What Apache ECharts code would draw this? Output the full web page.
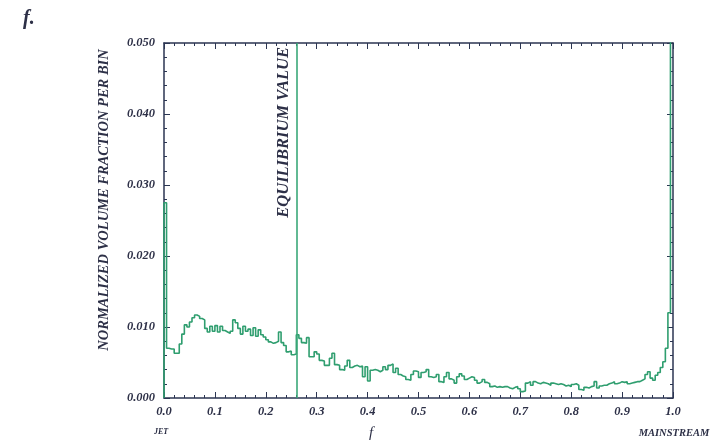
<!DOCTYPE html>
<html>
<head>
<meta charset="utf-8">
<script src="https://cdn.jsdelivr.net/npm/echarts@6/dist/echarts.min.js"></script>
<style>html,body{margin:0;padding:0;background:#fff;}#c{width:725px;height:443px;}</style>
</head>
<body>
<div id="c"></div>
<script>
// Histogram bin width (mixture fraction f)
const binWidth = 0.005;
// Normalized volume fraction per bin
const valsF000_020 = [0.0275,0.0070,0.0069,0.0069,0.0063,0.0063,0.0076,0.0090,0.0103,0.0100,
  0.0107,0.0113,0.0117,0.0115,0.0112,0.0110,0.0098,0.0093,0.0101,0.0094,
  0.0102,0.0093,0.0101,0.0095,0.0093,0.0091,0.0094,0.0110,0.0106,0.0098,
  0.0090,0.0101,0.0094,0.0097,0.0088,0.0099,0.0087,0.0096,0.0089,0.0086];
const valsF020_040 = [0.0082,0.0079,0.0077,0.0078,0.0080,0.0093,0.0078,0.0074,0.0065,0.0066,
  0.0061,0.0062,0.0089,0.0084,0.0078,0.0077,0.0085,0.0058,0.0058,0.0065,
  0.0062,0.0053,0.0052,0.0046,0.0046,0.0056,0.0063,0.0047,0.0046,0.0040,
  0.0039,0.0045,0.0053,0.0043,0.0045,0.0046,0.0044,0.0045,0.0030,0.0044];
const valsF040_060 = [0.0024,0.0039,0.0040,0.0039,0.0037,0.0039,0.0044,0.0040,0.0046,0.0048,
  0.0036,0.0042,0.0033,0.0031,0.0030,0.0026,0.0025,0.0033,0.0038,0.0037,
  0.0029,0.0036,0.0037,0.0040,0.0030,0.0029,0.0030,0.0033,0.0023,0.0022,
  0.0030,0.0036,0.0027,0.0025,0.0021,0.0030,0.0034,0.0031,0.0026,0.0028];
const valsF060_080 = [0.0030,0.0029,0.0025,0.0021,0.0023,0.0026,0.0022,0.0020,0.0016,0.0017,
  0.0015,0.0016,0.0015,0.0016,0.0016,0.0014,0.0013,0.0015,0.0016,0.0013,
  0.0009,0.0010,0.0021,0.0023,0.0018,0.0023,0.0021,0.0020,0.0022,0.0021,
  0.0020,0.0018,0.0021,0.0020,0.0019,0.0020,0.0019,0.0017,0.0018,0.0016];
const valsF080_100 = [0.0019,0.0020,0.0018,0.0012,0.0011,0.0015,0.0014,0.0016,0.0017,0.0023,
  0.0014,0.0017,0.0018,0.0018,0.0020,0.0021,0.0023,0.0020,0.0021,0.0023,
  0.0022,0.0023,0.0020,0.0021,0.0022,0.0023,0.0023,0.0025,0.0027,0.0033,
  0.0037,0.0028,0.0025,0.0032,0.0036,0.0043,0.0051,0.0070,0.0120,0.0600];
// Equilibrium value of f
const equilibriumF = 0.255;
// Axis ticks
const xTicks = [0.0,0.1,0.2,0.3,0.4,0.5,0.6,0.7,0.8,0.9,1.0];
const yTicks = [0.000,0.010,0.020,0.030,0.040,0.050];

const values = valsF000_020.concat(valsF020_040, valsF040_060, valsF060_080, valsF080_100);
const points = [[0, 0]];
values.forEach((v, i) => points.push([+(i * binWidth).toFixed(3), v]));
points.push([1.0, values[values.length - 1]]);

const txt = '#2d3047';
const axisCol = '#2b3552';
const serif = '"Liberation Serif", "DejaVu Serif", serif';

const chart = echarts.init(document.getElementById('c'));
const xBase = {
  type: 'value', min: xTicks[0], max: xTicks[xTicks.length - 1], interval: 0.1,
  axisLine: { show: true, onZero: false, lineStyle: { color: axisCol, width: 1.5 } },
  axisTick: { show: true, inside: true, length: 6, lineStyle: { color: axisCol } },
  minorTick: { show: true, splitNumber: 5, length: 3, lineStyle: { color: axisCol } },
  splitLine: { show: false }
};
const yBase = {
  type: 'value', min: yTicks[0], max: yTicks[yTicks.length - 1], interval: 0.01,
  axisLine: { show: true, onZero: false, lineStyle: { color: axisCol, width: 1.5 } },
  axisTick: { show: true, inside: true, length: 6, lineStyle: { color: axisCol } },
  minorTick: { show: true, splitNumber: 5, length: 3, lineStyle: { color: axisCol } },
  splitLine: { show: false }
};
chart.setOption({
  animation: false,
  backgroundColor: '#fff',
  grid: { left: 164, right: 52, top: 43, bottom: 45 },
  xAxis: [
    Object.assign({}, xBase, { position: 'bottom',
      axisLabel: { show: true, margin: 7, color: txt, fontFamily: serif, fontWeight: 'bold', fontStyle: 'italic', fontSize: 12.5,
        formatter: v => v.toFixed(1) } }),
    Object.assign({}, xBase, { position: 'top', axisLabel: { show: false } })
  ],
  yAxis: [
    Object.assign({}, yBase, { position: 'left',
      axisLabel: { show: true, margin: 9, color: txt, fontFamily: serif, fontWeight: 'bold', fontStyle: 'italic', fontSize: 12.5,
        formatter: v => v.toFixed(3) } }),
    Object.assign({}, yBase, { position: 'right', axisLabel: { show: false } })
  ],
  series: [{
    type: 'line', step: 'end', data: points, showSymbol: false, symbol: 'none', clip: true,
    xAxisIndex: 0, yAxisIndex: 0,
    lineStyle: { color: '#2f9e6f', width: 1.6 },
    markLine: {
      silent: true, symbol: 'none', animation: false,
      data: [{ xAxis: equilibriumF }],
      lineStyle: { color: '#3aa878', width: 1.6, type: 'solid' },
      label: { show: true, position: 'insideEndTop', distance: 4, formatter: 'EQUILIBRIUM VALUE',
        color: txt, fontFamily: serif, fontWeight: 'bold', fontStyle: 'italic', fontSize: 16.5 }
    }
  }],
  graphic: [
    { type: 'text', left: 23, top: 9, style: { text: 'f.', fill: txt, font: 'italic bold 20px ' + serif } },
    { type: 'text', x: 104, y: 200, rotation: Math.PI / 2,
      style: { text: 'NORMALIZED VOLUME FRACTION PER BIN', fill: txt, font: 'italic bold 14.5px ' + serif,
        align: 'center', verticalAlign: 'middle' } },
    { type: 'text', x: 161, y: 432, style: { text: 'JET', fill: txt, font: 'italic bold 8px ' + serif, align: 'center', verticalAlign: 'middle' } },
    { type: 'text', x: 371, y: 433, style: { text: 'f', fill: txt, font: 'italic 15px ' + serif, align: 'center', verticalAlign: 'middle' } },
    { type: 'text', x: 674, y: 433, style: { text: 'MAINSTREAM', fill: txt, font: 'italic bold 10.5px ' + serif, align: 'center', verticalAlign: 'middle' } }
  ]
});
</script>
</body>
</html>
